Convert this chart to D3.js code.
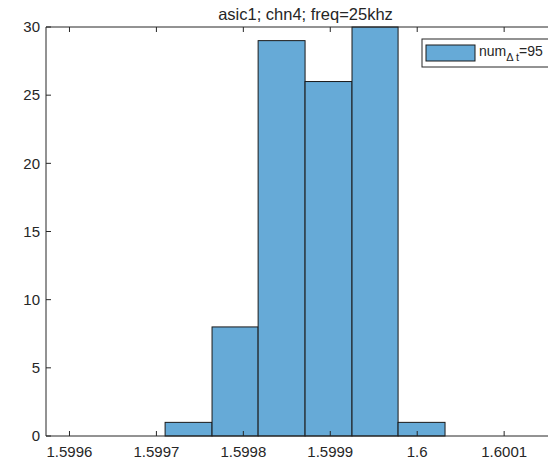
<!DOCTYPE html>
<html lang="en">
<head>
    <meta charset="UTF-8">
    <title>asic1; chn4; freq=25khz</title>
    <script src="https://d3js.org/d3.v7.min.js"></script>
    <style>
        body { margin: 0; background: #fff; }
        svg { display: block; }
        text { font-family: "Liberation Sans", Arial, sans-serif; fill: #262626; }
        .bar { fill: #66aad7; stroke: #1a1a1a; stroke-width: 1px; }
        .axis-line { stroke: #262626; stroke-width: 1px; fill: none; }
    </style>
</head>
<body>
    <div id="chart"></div>
    <script>
        // histogram data
        const binEdges = [1.59971, 1.599764, 1.599817, 1.599871, 1.599925, 1.599978, 1.600032];
        const counts = [1, 8, 29, 26, 30, 1];
        const xTicks = [1.5996, 1.5997, 1.5998, 1.5999, 1.6, 1.6001];
        const yTicks = [0, 5, 10, 15, 20, 25, 30];
        const xLimits = [1.599573, 1.60017];
        const yLimits = [0, 30];
        const titleText = "asic1; chn4; freq=25khz";
        const legendCount = 95;

        const width = 548, height = 463;
        const plot = { left: 46, top: 27, right: 565, bottom: 436 };

        const svg = d3.select("#chart").append("svg")
            .attr("width", width)
            .attr("height", height);

        const x = d3.scaleLinear().domain(xLimits).range([plot.left, plot.right]);
        const y = d3.scaleLinear().domain(yLimits).range([plot.bottom, plot.top]);

        const bins = counts.map((c, i) => ({ x0: binEdges[i], x1: binEdges[i + 1], n: c }));

        // bars
        svg.selectAll(".bar")
            .data(bins)
            .enter()
            .append("rect")
            .attr("class", "bar")
            .attr("x", d => x(d.x0))
            .attr("y", d => y(d.n))
            .attr("width", d => x(d.x1) - x(d.x0))
            .attr("height", d => y(0) - y(d.n));

        // box lines (right side falls outside the window)
        svg.append("path")
            .attr("class", "axis-line")
            .attr("d", `M${plot.left},${plot.top}H${plot.right}M${plot.left},${plot.top}V${plot.bottom}H${plot.right}`);

        const tickLen = 5;

        // x ticks bottom + top, pointing inward
        svg.selectAll(".xtick-b")
            .data(xTicks)
            .enter()
            .append("line")
            .attr("class", "axis-line")
            .attr("x1", d => x(d)).attr("x2", d => x(d))
            .attr("y1", plot.bottom).attr("y2", plot.bottom - tickLen);

        svg.selectAll(".xtick-t")
            .data(xTicks)
            .enter()
            .append("line")
            .attr("class", "axis-line")
            .attr("x1", d => x(d)).attr("x2", d => x(d))
            .attr("y1", plot.top).attr("y2", plot.top + tickLen);

        svg.selectAll(".xlabel")
            .data(xTicks)
            .enter()
            .append("text")
            .attr("x", d => x(d))
            .attr("y", plot.bottom + 21)
            .attr("text-anchor", "middle")
            .style("font-size", "15px")
            .text(d => d3.format("")(d));

        // y ticks
        svg.selectAll(".ytick")
            .data(yTicks)
            .enter()
            .append("line")
            .attr("class", "axis-line")
            .attr("x1", plot.left).attr("x2", plot.left + tickLen)
            .attr("y1", d => y(d)).attr("y2", d => y(d));

        svg.selectAll(".ylabel")
            .data(yTicks)
            .enter()
            .append("text")
            .attr("x", plot.left - 6)
            .attr("y", d => y(d))
            .attr("dy", "0.35em")
            .attr("text-anchor", "end")
            .style("font-size", "15px")
            .text(d => d);

        // title
        svg.append("text")
            .attr("x", (plot.left + plot.right) / 2)
            .attr("y", 20)
            .attr("text-anchor", "middle")
            .style("font-size", "16.5px")
            .text(titleText);

        // legend
        const lg = svg.append("g").attr("transform", "translate(422,39)");
        lg.append("rect")
            .attr("width", 140).attr("height", 28)
            .attr("fill", "#fff")
            .attr("stroke", "#262626")
            .attr("stroke-width", 1);
        lg.append("rect")
            .attr("class", "bar")
            .attr("x", 4).attr("y", 6)
            .attr("width", 49).attr("height", 16);
        const lt = lg.append("text")
            .attr("x", 57).attr("y", 17)
            .style("font-size", "14px");
        lt.append("tspan").text("num");
        lt.append("tspan").attr("dy", 5).style("font-size", "11px").text("\u0394 t");
        lt.append("tspan").attr("dy", -5).text("=" + legendCount);
    </script>
</body>
</html>
